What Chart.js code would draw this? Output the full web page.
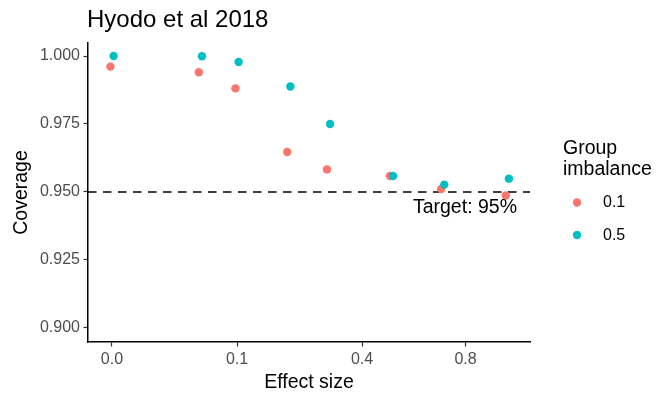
<!DOCTYPE html>
<html>
<head>
<meta charset="utf-8">
<title>Hyodo et al 2018</title>
<script src="https://cdn.jsdelivr.net/npm/chart.js@4/dist/chart.umd.min.js"></script>
<style>
  html, body { margin: 0; padding: 0; background: #ffffff; }
  canvas { display: block; }
</style>
</head>
<body>
<canvas id="c" width="656" height="394"></canvas>
<script>
// Effect sizes (plotted on a square-root x scale)
const effectSizes = [0, 0.05, 0.1, 0.2, 0.3, 0.5, 0.7, 1.0];
// Coverage for each group-imbalance level
const coverageImb01 = [0.9961, 0.9940, 0.9881, 0.9647, 0.9583, 0.9559, 0.9511, 0.9487];
const coverageImb05 = [1.0000, 0.9999, 0.9978, 0.9888, 0.9750, 0.9559, 0.9527, 0.9549];
const groupLabels = ['0.1', '0.5'];
const groupColors = ['#F8766D', '#00BFC4'];
// Axis breaks
const xBreaks = [0, 0.1, 0.4, 0.8];
const yBreaks = [0.900, 0.925, 0.950, 0.975, 1.000];
const targetCoverage = 0.95;

const FONT = '"Liberation Sans", Arial, Helvetica, sans-serif';
const DODGE = 0.004; // small horizontal dodge between groups (sqrt units)

const sqrtX = v => Math.sqrt(v);
const toPoints = (ys, shift) => effectSizes.map((x, i) => ({ x: sqrtX(x) + shift, y: ys[i] }));

// Title, axis titles, reference line and legend
const decorations = {
  id: 'decorations',
  beforeDatasetsDraw(chart) {
    const { ctx, chartArea, scales } = chart;
    const y = Math.round(scales.y.getPixelForValue(targetCoverage));
    ctx.save();
    ctx.strokeStyle = '#000000';
    ctx.lineWidth = 1.5;
    ctx.setLineDash([8.5, 6.5]);
    ctx.beginPath();
    ctx.moveTo(chartArea.left, y);
    ctx.lineTo(chartArea.right, y);
    ctx.stroke();
    ctx.restore();
  },
  afterDraw(chart) {
    const { ctx, chartArea, scales } = chart;
    ctx.save();
    ctx.fillStyle = '#000000';
    ctx.textBaseline = 'alphabetic';

    // Plot title
    ctx.font = '24px ' + FONT;
    ctx.textAlign = 'left';
    ctx.fillText('Hyodo et al 2018', 87, 27);

    // Reference line label
    ctx.font = '19.5px ' + FONT;
    ctx.textAlign = 'right';
    const yT = scales.y.getPixelForValue(targetCoverage);
    ctx.fillText('Target: 95%', chartArea.right - 13, yT + 21.5);

    // Axis titles
    ctx.textAlign = 'center';
    ctx.fillText('Effect size', (chartArea.left + chartArea.right) / 2, 387.5);
    ctx.save();
    ctx.translate(27, (chartArea.top + chartArea.bottom) / 2);
    ctx.rotate(-Math.PI / 2);
    ctx.fillText('Coverage', 0, 0);
    ctx.restore();

    // Legend
    ctx.textAlign = 'left';
    ctx.fillText('Group', 563, 153.5);
    ctx.fillText('imbalance', 563, 174.5);
    ctx.font = '16px ' + FONT;
    const keyY = [202.5, 235];
    groupLabels.forEach((lab, i) => {
      ctx.fillStyle = groupColors[i];
      ctx.beginPath();
      ctx.arc(577, keyY[i], 4.2, 0, Math.PI * 2);
      ctx.fill();
      ctx.fillStyle = '#000000';
      ctx.textBaseline = 'middle';
      ctx.fillText(lab, 603, keyY[i] + 0.5);
    });
    ctx.restore();
  }
};

new Chart(document.getElementById('c'), {
  type: 'scatter',
  data: {
    datasets: [
      {
        label: groupLabels[0],
        data: toPoints(coverageImb01, -DODGE),
        backgroundColor: groupColors[0],
        borderWidth: 0,
        pointRadius: 4.2,
        order: 1
      },
      {
        label: groupLabels[1],
        data: toPoints(coverageImb05, DODGE),
        backgroundColor: groupColors[1],
        borderWidth: 0,
        pointRadius: 4.2,
        order: 0
      }
    ]
  },
  options: {
    responsive: false,
    devicePixelRatio: 1,
    animation: false,
    events: [],
    layout: { padding: { left: 0, top: 43, right: 126, bottom: 0 } },
    plugins: {
      legend: { display: false },
      title: { display: false },
      tooltip: { enabled: false }
    },
    scales: {
      x: {
        type: 'linear',
        min: -0.0607,
        max: 1.0574,
        afterBuildTicks: s => { s.ticks = xBreaks.map(v => ({ value: sqrtX(v) })); },
        afterFit: s => { s.height = 52; },
        ticks: {
          callback: v => (v * v).toFixed(1),
          color: '#4D4D4D',
          font: { family: FONT, size: 16 },
          padding: 3.5,
          maxRotation: 0,
          autoSkip: false
        },
        grid: {
          drawOnChartArea: false,
          drawTicks: true,
          tickLength: 4.5,
          tickColor: '#333333',
          tickWidth: 1.2
        },
        border: { display: true, color: '#000000', width: 1.5 }
      },
      y: {
        type: 'linear',
        min: 0.89485,
        max: 1.00478,
        afterBuildTicks: s => { s.ticks = yBreaks.map(v => ({ value: v })); },
        afterFit: s => { s.width = 88; },
        ticks: {
          callback: v => v.toFixed(3),
          color: '#4D4D4D',
          font: { family: FONT, size: 16 },
          padding: 3.5,
          autoSkip: false
        },
        grid: {
          drawOnChartArea: false,
          drawTicks: true,
          tickLength: 4.5,
          tickColor: '#333333',
          tickWidth: 1.2
        },
        border: { display: true, color: '#000000', width: 1.5 }
      }
    }
  },
  plugins: [decorations]
});
</script>
</body>
</html>
